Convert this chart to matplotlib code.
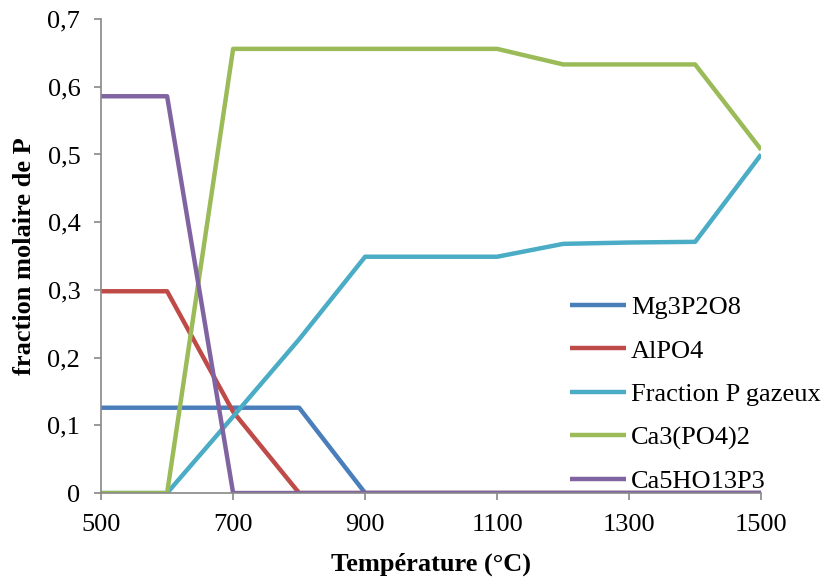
import matplotlib
matplotlib.use("Agg")
import matplotlib.pyplot as plt
from matplotlib.ticker import FuncFormatter

plt.rcParams['font.family'] = ['Liberation Serif', 'DejaVu Serif']

temperature = [500, 600, 700, 800, 900, 1000, 1100, 1200, 1300, 1400, 1500]
mg3p2o8 = [0.126, 0.126, 0.126, 0.126, 0, 0, 0, 0, 0, 0, 0]
alpo4 = [0.298, 0.298, 0.12, 0, 0, 0, 0, 0, 0, 0, 0]
p_gazeux = [0, 0, 0.113, 0.227, 0.349, 0.349, 0.349, 0.368, 0.370, 0.371, 0.500]
ca3po42 = [0, 0, 0.656, 0.656, 0.656, 0.656, 0.656, 0.633, 0.633, 0.633, 0.507]
ca5ho13p3 = [0.586, 0.586, 0, 0, 0, 0, 0, 0, 0, 0, 0]
x_ticks = [500, 700, 900, 1100, 1300, 1500]
y_ticks = [0, 0.1, 0.2, 0.3, 0.4, 0.5, 0.6, 0.7]

series = [
    ("Mg3P2O8", mg3p2o8, "#4A7EBB"),
    ("AlPO4", alpo4, "#BE4B48"),
    ("Fraction P gazeux", p_gazeux, "#4BACC6"),
    ("Ca3(PO4)2", ca3po42, "#9BBB59"),
    ("Ca5HO13P3", ca5ho13p3, "#8064A2"),
]

fig, ax = plt.subplots(figsize=(8.22, 5.78), dpi=100)
fig.subplots_adjust(left=0.123, right=0.926, top=0.967, bottom=0.147)

for name, vals, col in series:
    ax.plot(temperature, vals, color=col, lw=3.2, label=name, solid_capstyle='butt')

ax.set_xlim(500, 1500)
ax.set_ylim(0, 0.7)
ax.set_xticks(x_ticks)
ax.set_yticks(y_ticks)
ax.yaxis.set_major_formatter(FuncFormatter(lambda v, p: "0" if abs(v) < 1e-9 else f"{v:.1f}".replace(".", ",")))

for s in ['top', 'right']:
    ax.spines[s].set_visible(False)
for s in ['left', 'bottom']:
    ax.spines[s].set_color('#888888')
    ax.spines[s].set_linewidth(1.2)
ax.tick_params(axis='both', colors='#888888', labelcolor='black', labelsize=19, length=5, width=1.2)
ax.tick_params(axis='x', pad=10)
ax.tick_params(axis='y', pad=10)

ax.set_xlabel("Température (°C)", fontsize=19, fontweight='bold', labelpad=12)
ax.set_ylabel("fraction molaire de P", fontsize=19, fontweight='bold', labelpad=8)

ax.legend(loc='lower left', bbox_to_anchor=(0.695, -0.022), frameon=False, fontsize=19,
          handlelength=2.1, handletextpad=0.2, labelspacing=0.75, borderaxespad=0.0)

fig.savefig("out.png", dpi=100)
